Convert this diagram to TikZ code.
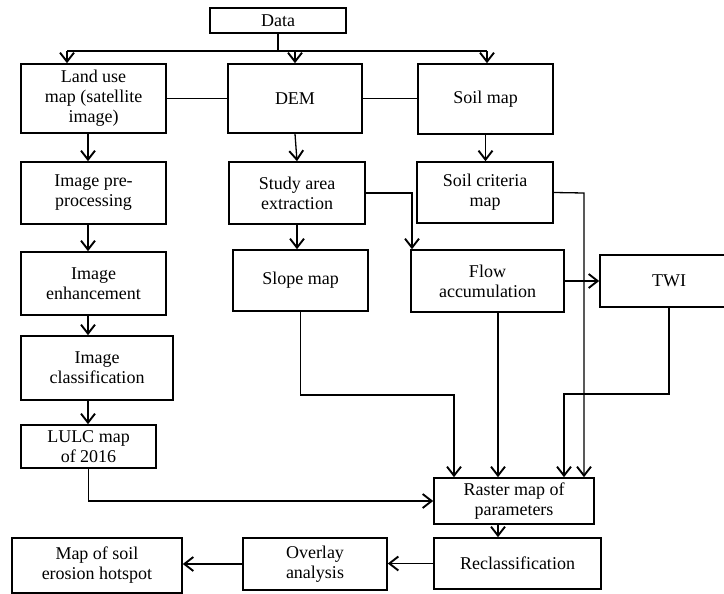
\documentclass[tikz,border=0pt]{standalone}
\usepackage{fontspec}
\setmainfont{Liberation Serif}
\usetikzlibrary{arrows.meta}
\begin{document}
\begin{tikzpicture}[x=1pt,y=-1pt,line width=1.3pt,
  box/.style={draw,line width=1.6pt,align=center,inner sep=0pt,font=\fontsize{18pt}{20pt}\selectfont},
  arr/.style={-{Straight Barb[length=9pt,width=14pt,line width=1.9pt]}}]
\useasboundingbox (0,0) rectangle (724,594);

% boxes
\node (data) at (278,20.5) [box,minimum width=136pt,minimum height=25pt] {Data};
\node (landuse) at (93.5,98.5) [box,minimum width=145pt,minimum height=69pt] {Land use\\map (satellite\\image)};
\node (dem) at (295,98.5) [box,minimum width=134pt,minimum height=69pt] {DEM};
\node (soil) at (485.5,99) [box,minimum width=135pt,minimum height=70pt] {Soil map};
\node (prep) at (93.5,193) [box,minimum width=145pt,minimum height=62pt] {Image pre-\\processing};
\node (study) at (297,193) [box,minimum width=136pt,minimum height=62pt] {Study area\\extraction};
\node (criteria) at (485,192.5) [box,minimum width=136pt,minimum height=61pt] {Soil criteria\\map};
\node (enh) at (93.5,283.5) [box,minimum width=145pt,minimum height=63pt] {Image\\enhancement};
\node (slope) at (300.5,280.5) [box,minimum width=135pt,minimum height=61pt] {Slope map};
\node (flow) at (487.5,281) [box,minimum width=153pt,minimum height=62pt] {Flow\\accumulation};
\node (twi) at (669,281) [box,minimum width=138pt,minimum height=52pt] {TWI};
\node (cls) at (97,368) [box,minimum width=152pt,minimum height=64pt] {Image\\classification};
\node (lulc) at (88.5,446.5) [box,minimum width=135pt,minimum height=43pt] {LULC map\\of 2016};
\node (raster) at (514,501) [box,minimum width=160pt,minimum height=46pt] {Raster map of\\parameters};
\node (recl) at (517.5,563.5) [box,minimum width=167pt,minimum height=51pt] {Reclassification};
\node (overlay) at (315,564) [box,minimum width=144pt,minimum height=52pt] {Overlay\\analysis};
\node (hotspot) at (97,565.5) [box,minimum width=170pt,minimum height=55pt] {Map of soil\\erosion hotspot};

% bends
\coordinate (busL) at (67,51);
\coordinate (busR) at (487,51);
\coordinate (colL) at (88,0);
\coordinate (colF) at (498,0);
\coordinate (bendF) at (412,193);
\coordinate (bendC) at (584,193);
\coordinate (bendS) at (454,395);
\coordinate (bendT) at (564,394);

% data to sources
\draw (data.south) -- (data.south |- busL);
\draw (busL) -- (busR);
\draw[arr] (busL) -- (busL |- landuse.north);
\draw[arr] (dem.north |- busL) -- (dem.north);
\draw[arr] (busR) -- (busR |- soil.north);
\draw (landuse.east) -- (dem.west);
\draw (dem.east) -- (dem.east -| soil.west);

% left column
\draw[arr] (landuse.south -| colL) -- (prep.north -| colL);
\draw[arr] (prep.south -| colL) -- (enh.north -| colL);
\draw[arr] (enh.south -| colL) -- (cls.north -| colL);
\draw[arr] (cls.south -| colL) -- (lulc.north -| colL);
\draw[arr] (lulc.south) |- (raster.west);

% middle and right
\draw[arr] (dem.south) -- (study.north);
\draw[arr] (study.south) -- (study.south |- slope.north);
\draw[arr] (soil.south) -- (soil.south |- criteria.north);
\draw[arr] (study.east) -- (bendF) -- (bendF |- flow.north);
\draw[arr] (flow.east) -- (flow.east -| twi.west);
\draw[arr] (slope.south) |- (bendS) -- (bendS |- raster.north);
\draw[arr] (flow.south -| colF) -- (raster.north -| colF);
\draw[arr] (twi.south) |- (bendT) -- (bendT |- raster.north);
\draw[arr] (criteria.east) -- (bendC) -- (bendC |- raster.north);

% bottom row
\draw[arr] (raster.south -| colF) -- (recl.north -| colF);
\draw[arr] (recl.west) -- (recl.west -| overlay.east);
\draw[arr] (overlay.west) -- (overlay.west -| hotspot.east);
\end{tikzpicture}
\end{document}
